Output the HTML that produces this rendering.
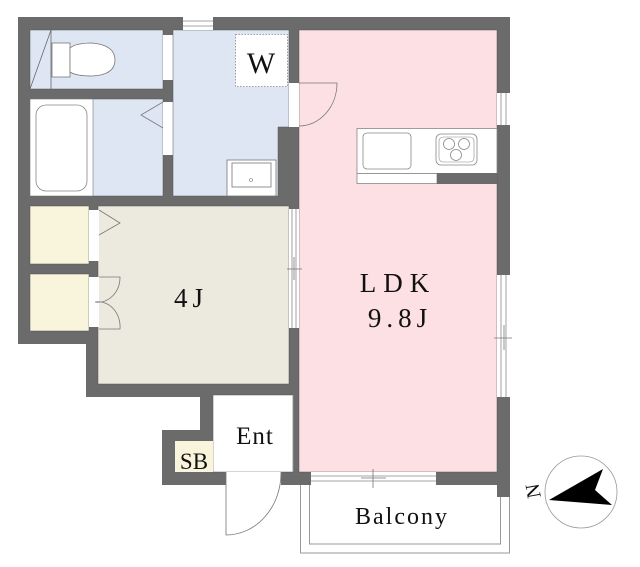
<!DOCTYPE html>
<html><head><meta charset="utf-8"><style>
body{margin:0;background:#fff;}
svg{display:block;}
text{font-family:"Liberation Serif",serif;fill:#111;}
</style></head><body>
<svg width="640" height="567" viewBox="0 0 640 567" xmlns="http://www.w3.org/2000/svg">
<rect x="300.5" y="480" width="209" height="73" fill="#fff" stroke="#999"/>
<rect x="309.5" y="480" width="191" height="64" fill="#fff" stroke="#999"/>
<polygon points="18,17 510,17 510,497 497,497 497,485 162,485 162,430 200,430 200,397 86,397 86,344 18,344" fill="#6b6b6b"/>
<rect x="30" y="30" width="133" height="59" fill="#dfe6f3" stroke="#555" stroke-width="0.5"/>
<line x1="51" y1="30" x2="30" y2="89" stroke="#666" stroke-width="0.8"/>
<line x1="51" y1="30" x2="51" y2="89" stroke="#666" stroke-width="0.8"/>
<rect x="52" y="43" width="18" height="34" fill="#fff" stroke="#777" stroke-width="0.8"/>
<path d="M70,48 Q76,43 92,43 Q115,45 115,60 Q115,75 92,76 Q76,76 70,72 Z" fill="#fff" stroke="#777" stroke-width="0.8"/>
<rect x="163" y="35" width="10" height="45" fill="#fff"/>
<path d="M173,80 A40,44 0 0 0 213,36 L173,36" fill="none" stroke="#777" stroke-width="0.8"/>
<rect x="30" y="99" width="133" height="97" fill="#dfe6f3" stroke="#555" stroke-width="0.5"/>
<rect x="30" y="99" width="63" height="97" fill="#fff" stroke="#777" stroke-width="0.6"/>
<rect x="36" y="105" width="51" height="86" rx="10" fill="#fff" stroke="#888" stroke-width="0.8"/>
<rect x="163" y="102" width="10" height="53" fill="#fff"/>
<polyline points="163,102 141,115 163,128" fill="none" stroke="#777" stroke-width="0.8"/>
<polygon points="173,30 289,30 289,127 278,127 278,196 173,196" fill="#dfe6f3" stroke="#555" stroke-width="0.5"/>
<rect x="183" y="17" width="30" height="13" fill="#fff"/>
<line x1="183" y1="21" x2="213" y2="21" stroke="#888" stroke-width="0.8"/>
<line x1="183" y1="26" x2="213" y2="26" stroke="#888" stroke-width="0.8"/>
<rect x="235.5" y="34.5" width="52" height="52" fill="#fff" stroke="#888" stroke-dasharray="1.5,1.5" stroke-width="0.8"/>
<text x="261" y="73" font-size="30" text-anchor="middle">W</text>
<rect x="227" y="160" width="49" height="36" fill="#fff" stroke="#777" stroke-width="0.8"/>
<rect x="232" y="163" width="39" height="24" fill="#fff" stroke="#777" stroke-width="0.8"/>
<circle cx="251" cy="180" r="1.5" fill="none" stroke="#777" stroke-width="0.6"/>
<rect x="299" y="30" width="198" height="442" fill="#fce0e3" stroke="#555" stroke-width="0.5"/>
<rect x="289" y="83" width="10" height="44" fill="#fff"/>
<path d="M299,126 A38,43 0 0 0 337,83 L299,83" fill="none" stroke="#777" stroke-width="0.8"/>
<rect x="497" y="93" width="13" height="32" fill="#fff"/>
<line x1="501" y1="93" x2="501" y2="125" stroke="#888" stroke-width="0.8"/>
<line x1="506" y1="93" x2="506" y2="125" stroke="#888" stroke-width="0.8"/>
<rect x="357" y="128.5" width="140" height="45" fill="#fff" stroke="#888" stroke-width="0.8"/>
<rect x="357" y="173.5" width="80" height="10" fill="#fff" stroke="#888" stroke-width="0.8"/>
<rect x="437" y="173" width="60" height="11" fill="#6b6b6b"/>
<rect x="363" y="133" width="48" height="36" rx="4" fill="#fff" stroke="#888" stroke-width="0.8"/>
<rect x="436" y="134" width="41" height="31" rx="5" fill="#fff" stroke="#888" stroke-width="0.8"/>
<rect x="439" y="137" width="35" height="25" rx="4" fill="none" stroke="#888" stroke-width="0.6"/>
<circle cx="449" cy="144" r="5.5" fill="none" stroke="#888" stroke-width="0.8"/>
<circle cx="464" cy="144" r="5.5" fill="none" stroke="#888" stroke-width="0.8"/>
<circle cx="456" cy="155" r="5.5" fill="none" stroke="#888" stroke-width="0.8"/>
<rect x="497" y="275" width="13" height="122" fill="#fff"/>
<line x1="501" y1="275" x2="501" y2="397" stroke="#888" stroke-width="0.8"/>
<line x1="506" y1="275" x2="506" y2="397" stroke="#888" stroke-width="0.8"/>
<line x1="494" y1="338" x2="512" y2="338" stroke="#777" stroke-width="0.8"/>
<line x1="504" y1="325" x2="504" y2="350" stroke="#777" stroke-width="0.8"/>
<text x="398" y="292" font-size="27" text-anchor="middle" letter-spacing="7">LDK</text>
<text x="400" y="327" font-size="27" text-anchor="middle" letter-spacing="5">9.8J</text>
<rect x="98" y="206" width="191" height="178" fill="#ece9df" stroke="#555" stroke-width="0.5"/>
<rect x="289" y="209" width="10" height="119" fill="#fff"/>
<line x1="292" y1="209" x2="292" y2="328" stroke="#888" stroke-width="0.8"/>
<line x1="296" y1="209" x2="296" y2="328" stroke="#888" stroke-width="0.8"/>
<line x1="287" y1="269" x2="302" y2="269" stroke="#777" stroke-width="0.8"/>
<line x1="294" y1="257" x2="294" y2="280" stroke="#777" stroke-width="0.8"/>
<text x="191" y="307" font-size="27" text-anchor="middle" letter-spacing="5">4J</text>
<rect x="30" y="206" width="59" height="58" fill="#f8f5dc" stroke="#555" stroke-width="0.5"/>
<rect x="30" y="274" width="59" height="57" fill="#f8f5dc" stroke="#555" stroke-width="0.5"/>
<rect x="89" y="210" width="10" height="51" fill="#fff"/>
<polyline points="99,210 120,223 99,235" fill="none" stroke="#777" stroke-width="0.8"/>
<rect x="89" y="277" width="10" height="50" fill="#fff"/>
<path d="M99,277 L120,277 A22,25 0 0 1 95,302 M95,302 A22,25 0 0 1 120,329 L99,329" fill="none" stroke="#777" stroke-width="0.8"/>
<rect x="213" y="395" width="80" height="77" fill="#fff" stroke="#555" stroke-width="0.5"/>
<line x1="293" y1="395" x2="293" y2="472" stroke="#999" stroke-width="0.8"/>
<text x="255" y="444" font-size="25" text-anchor="middle" letter-spacing="1">Ent</text>
<rect x="175" y="441" width="38" height="31" fill="#f8f5dc"/>
<text x="194" y="469" font-size="23" text-anchor="middle">SB</text>
<rect x="226" y="472" width="55" height="13" fill="#fff"/>
<path d="M226,472 L226,535 A55,62 0 0 0 281,472" fill="none" stroke="#777" stroke-width="0.8"/>
<rect x="311" y="472" width="125" height="13" fill="#fff"/>
<line x1="311" y1="476" x2="436" y2="476" stroke="#888" stroke-width="0.8"/>
<line x1="311" y1="481" x2="436" y2="481" stroke="#888" stroke-width="0.8"/>
<line x1="361" y1="478" x2="386" y2="478" stroke="#777" stroke-width="0.8"/>
<line x1="373" y1="469" x2="373" y2="488" stroke="#777" stroke-width="0.8"/>
<text x="402" y="524" font-size="24" text-anchor="middle" letter-spacing="2">Balcony</text>
<circle cx="581" cy="492" r="36" fill="#fff" stroke="#999" stroke-width="0.8"/>
<polygon points="549,500 603,469 595,490 612,505" fill="#000"/>
<text x="535" y="504" font-size="20" transform="rotate(-100 535 498)">N</text>
</svg>
</body></html>
